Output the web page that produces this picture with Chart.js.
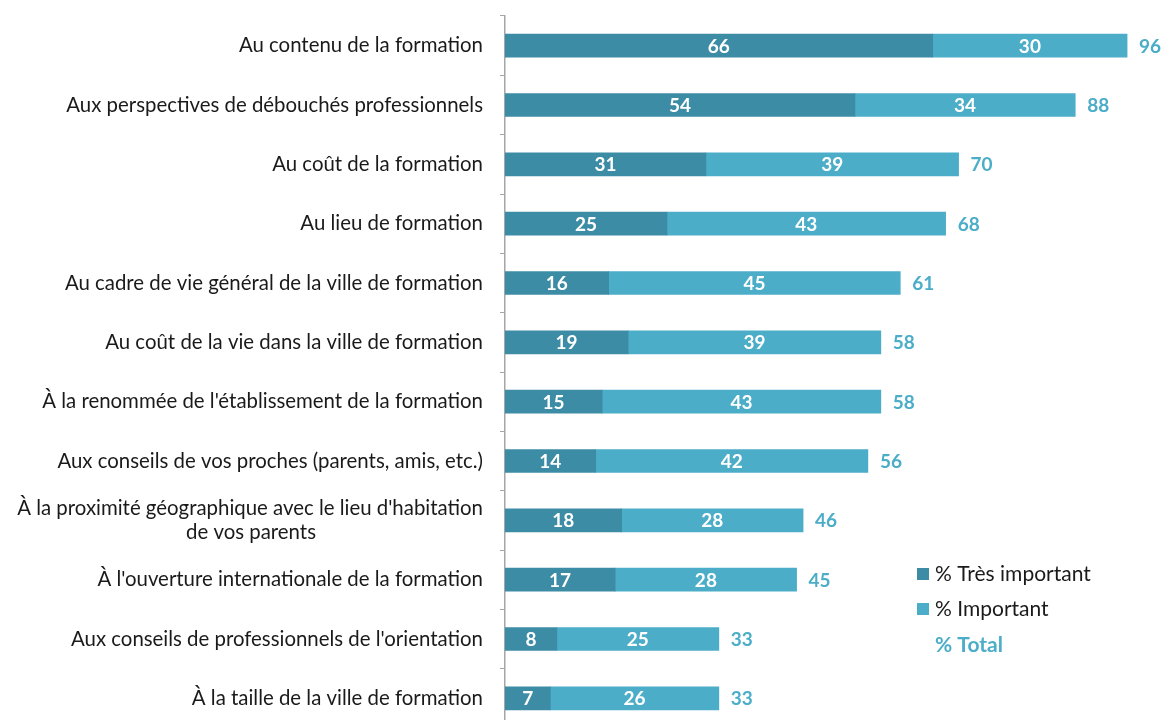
<!DOCTYPE html>
<html>
<head>
<meta charset="utf-8">
<script src="https://cdn.jsdelivr.net/npm/chart.js@4"></script>
<style>
html,body{margin:0;padding:0;overflow:hidden;background:#fff;}
canvas{display:block;}
</style>
</head>
<body>
<canvas id="c" width="1164" height="732"></canvas>
<script>
const categories = [
  "Au contenu de la formation",
  "Aux perspectives de débouchés professionnels",
  "Au coût de la formation",
  "Au lieu de formation",
  "Au cadre de vie général de la ville de formation",
  "Au coût de la vie dans la ville de formation",
  "À la renommée de l'établissement de la formation",
  "Aux conseils de vos proches (parents, amis, etc.)",
  ["À la proximité géographique avec le lieu d'habitation", "de vos parents"],
  "À l'ouverture internationale de la formation",
  "Aux conseils de professionnels de l'orientation",
  "À la taille de la ville de formation"
];
const tresImportant = [66, 54, 31, 25, 16, 19, 15, 14, 18, 17, 8, 7];
const important = [30, 34, 39, 43, 45, 39, 43, 42, 28, 28, 25, 26];
const totals = [96, 88, 70, 68, 61, 58, 58, 56, 46, 45, 33, 33];
const seriesNames = ["% Très important", "% Important", "% Total"];

const DARK = "#3d8ca5";
const LIGHT = "#4badc8";
const FONT = "Lato, 'Liberation Sans', sans-serif";
const TICK_SIZE = 20.4;

// center the lines of multi-line labels (canvas right-aligns each line)
const mctx = document.createElement("canvas").getContext("2d");
function centerLines(lbl) {
  if (!Array.isArray(lbl)) return lbl;
  mctx.font = TICK_SIZE + "px " + FONT;
  const w = lbl.map(s => mctx.measureText(s).width);
  const maxW = Math.max(...w);
  const sp = mctx.measureText(" ").width;
  return lbl.map((s, k) => s + " ".repeat(Math.max(0, Math.round((maxW - w[k]) / 2 / sp))));
}

const labelPlugin = {
  id: "labels",
  afterDatasetsDraw(chart) {
    const ctx = chart.ctx;
    ctx.save();
    ctx.textBaseline = "middle";
    chart.data.datasets.forEach((ds, di) => {
      const meta = chart.getDatasetMeta(di);
      meta.data.forEach((bar, i) => {
        const x = (bar.x + bar.base) / 2;
        ctx.fillStyle = "#ffffff";
        ctx.font = "bold 19px " + FONT;
        ctx.textAlign = "center";
        ctx.fillText(String(ds.data[i]), x, bar.y + 1);
      });
    });
    const xs = chart.scales.x;
    const meta1 = chart.getDatasetMeta(1);
    meta1.data.forEach((bar, i) => {
      ctx.fillStyle = LIGHT;
      ctx.font = "bold 19px " + FONT;
      ctx.textAlign = "left";
      ctx.fillText(String(totals[i]), xs.getPixelForValue(totals[i]) + 12, bar.y + 1);
    });
    // legend
    const lx = 917;
    const items = [[seriesNames[0], DARK, 574], [seriesNames[1], LIGHT, 609]];
    items.forEach(([t, c, y]) => {
      ctx.fillStyle = c;
      ctx.fillRect(lx, y - 6, 12, 12);
      ctx.fillStyle = "#1a1a1a";
      ctx.font = "21px " + FONT;
      ctx.textAlign = "left";
      ctx.fillText(t, lx + 18, y);
    });
    ctx.fillStyle = LIGHT;
    ctx.font = "bold 21px " + FONT;
    ctx.fillText(seriesNames[2], lx + 18, 645);
    ctx.restore();
  }
};

new Chart(document.getElementById("c"), {
  type: "bar",
  data: {
    labels: categories,
    datasets: [
      { label: seriesNames[0], data: tresImportant, backgroundColor: DARK, barThickness: 23 },
      { label: seriesNames[1], data: important, backgroundColor: LIGHT, barThickness: 23 }
    ]
  },
  options: {
    indexAxis: "y",
    responsive: false,
    animation: false,
    layout: { padding: { top: 16, right: 11, bottom: 4, left: 0 } },
    plugins: { legend: { display: false }, tooltip: { enabled: false } },
    scales: {
      x: { stacked: true, min: 0, max: 100, display: false },
      y: {
        stacked: true,
        offset: true,
        grid: { offset: true, drawOnChartArea: false, tickLength: 5, color: "#a6a6a6", lineWidth: 1 },
        border: { display: true, color: "#a6a6a6", width: 1.5 },
        ticks: {
          color: "#1a1a1a", font: { family: FONT, size: TICK_SIZE }, padding: 17, autoSkip: false,
          callback(v, i) { return centerLines(categories[i]); }
        },
        afterFit(scale) { scale.width = 505; scale.paddingTop = 0; scale.paddingBottom = 0; }
      }
    }
  },
  plugins: [labelPlugin]
});
</script>
</body>
</html>
